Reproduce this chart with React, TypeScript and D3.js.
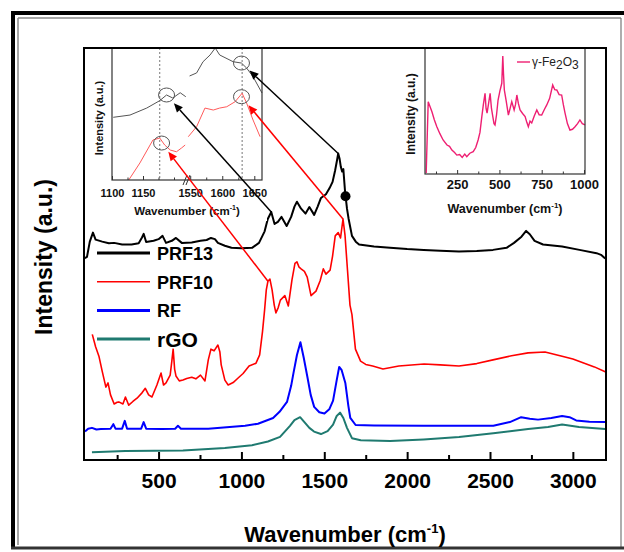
import * as d3 from "d3";
import { useEffect, useRef } from "react";

const W = 624;
const H = 552;

// main spectra, [wavenumber, intensity]
const prf13: [number, number][] = [
  [55, 49.0], [68, 49.3], [85, 53], [104, 55.2], [120, 53.5], [160, 53.0], [200, 52.6], [232, 52.7],
  [280, 52.3], [337, 52.3], [380, 52.6], [400, 54.0], [410, 54.9], [425, 52.9], [470, 53.2], [500, 53.6],
  [524, 54.4], [545, 52.7], [580, 53.2], [605, 53.9], [640, 52.7], [700, 52.8], [753, 53.2], [790, 53.4],
  [816, 53.9], [840, 53.6], [858, 52.7], [900, 52.0], [940, 51.5], [1000, 51.4], [1064, 51.5], [1106, 52.7],
  [1140, 55.5], [1159, 58.5], [1180, 60.2], [1200, 57.3], [1220, 57.8], [1242, 59.0], [1273, 56.8],
  [1300, 59.0], [1320, 61.5], [1335, 62.7], [1360, 61.0], [1387, 59.8], [1410, 61.4], [1439, 59.5],
  [1460, 61.5], [1480, 63.6], [1510, 64.5], [1532, 66.0], [1550, 67.5], [1565, 70.2], [1578, 73.0],
  [1584, 74.4], [1592, 73.2], [1600, 71.1], [1608, 70.0], [1615, 70.6], [1625, 65.3], [1637, 61.0],
  [1647, 58.5], [1667, 54.4], [1690, 53.0], [1710, 52.3], [1800, 51.8], [1897, 51.5], [2000, 51.2],
  [2100, 51.0], [2200, 50.8], [2313, 50.6], [2420, 50.7], [2518, 51.0], [2600, 51.5], [2645, 52.7],
  [2690, 54.2], [2718, 55.6], [2740, 54.8], [2769, 53.2], [2820, 52.3], [2935, 51.8], [3040, 51.0],
  [3143, 50.2], [3170, 49.8], [3195, 48.9],
];

const prf10: [number, number][] = [
  [100, 30.5], [120, 27.5], [140, 25.2], [160, 21.5], [182, 17.7], [195, 18.7], [210, 15.8], [232, 13.6],
  [250, 14.0], [260, 14.1], [285, 13.6], [300, 15.3], [320, 13.3], [345, 14.2], [370, 15.0], [400, 16.3],
  [420, 17.4], [440, 15.8], [460, 15.3], [490, 18.2], [515, 21.1], [530, 18.2], [545, 18.7], [570, 20.6],
  [580, 24], [588, 26.9], [597, 22], [605, 20.4], [625, 19.2], [647, 19.4], [670, 19.8], [700, 20.1],
  [725, 19.7], [753, 20.6], [780, 19.2], [800, 24.3], [816, 26.9], [835, 26.5], [858, 27.9], [870, 26.2],
  [878, 23.1], [900, 19.4], [920, 18.2], [950, 18.8], [980, 19.9], [1010, 21.0], [1046, 22.8], [1088, 23.5],
  [1110, 25.5], [1127, 31.1], [1140, 36.5], [1150, 41.3], [1160, 43.4], [1172, 43.9], [1185, 41.3],
  [1198, 37.6], [1208, 35.7], [1222, 37.0], [1235, 38.8], [1262, 39.9], [1283, 37.4], [1305, 43.7],
  [1323, 47.7], [1335, 48.1], [1348, 46.8], [1360, 46.4], [1380, 45.8], [1397, 44.4], [1420, 39.9],
  [1450, 41.0], [1475, 43.5], [1494, 46.4], [1510, 45.1], [1535, 46.1], [1550, 49.5], [1566, 54.4],
  [1584, 55.2], [1598, 53.9], [1613, 58.5], [1625, 54.6], [1640, 46.1], [1655, 37.6], [1667, 35.3],
  [1688, 26.9], [1719, 24.0], [1750, 23.2], [1792, 22.8], [1854, 22.1], [1950, 22.8], [2102, 23.3],
  [2200, 23.1], [2313, 22.8], [2420, 23.4], [2518, 24.3], [2630, 25.3], [2730, 26.0], [2832, 26.2],
  [2935, 25.2], [3000, 24.5], [3061, 23.6], [3130, 22.6], [3195, 21.4],
];

const rf: [number, number][] = [
  [56, 6.9], [75, 7.6], [98, 7.8], [125, 7.4], [152, 7.5], [210, 7.6], [227, 8.7], [240, 7.6], [280, 7.6],
  [296, 9.5], [310, 7.6], [395, 7.6], [410, 9.2], [425, 7.6], [520, 7.5], [600, 7.6], [617, 8.3], [635, 7.6],
  [800, 7.6], [1022, 8.3], [1100, 8.8], [1191, 10.2], [1230, 11.7], [1275, 14.1], [1300, 18.0], [1314, 21.1],
  [1335, 25.5], [1356, 28.6], [1376, 24.8], [1397, 20.4], [1418, 15.8], [1439, 12.9], [1470, 11.6],
  [1501, 11.3], [1530, 12.3], [1553, 14.4], [1575, 19.4], [1590, 22.6], [1605, 21.8], [1627, 18.7],
  [1645, 13.2], [1657, 10.2], [1689, 8.5], [1800, 8.4], [2100, 8.3], [2520, 8.3], [2620, 9.2], [2688, 10.4],
  [2740, 10.0], [2790, 9.8], [2870, 10.2], [2935, 10.7], [2980, 10.4], [3020, 9.6], [3100, 9.3], [3195, 9.2],
];

const rgo: [number, number][] = [
  [98, 1.9], [300, 2.2], [647, 2.3], [900, 2.9], [1064, 3.6], [1160, 4.5], [1233, 5.6], [1293, 8.3],
  [1320, 9.7], [1354, 10.4], [1380, 9.2], [1410, 7.8], [1438, 6.9], [1480, 6.3], [1520, 7.0], [1553, 8.6],
  [1575, 10.7], [1595, 11.5], [1615, 10.2], [1637, 7.8], [1667, 5.3], [1720, 4.8], [1897, 4.6], [2100, 5.0],
  [2313, 5.6], [2520, 6.5], [2730, 7.5], [2850, 8.0], [2935, 8.6], [3037, 8.0], [3195, 7.5],
];

const mainTicks = [500, 1000, 1500, 2000, 2500, 3000];
const mainMinor = [250, 750, 1250, 1750, 2250, 2750];

const legendNames = ["PRF13", "PRF10", "RF", "rGO"];
const legendColors = ["#000000", "#ff0000", "#0000ff", "#1f7a70"];
const legendWidths = [3, 1.5, 3, 3];
const legendSizes = [18, 18, 18, 21];

// zoomed inset (broken axis 1100-1220 | 1545-1662)
const zoomPrf13: [number, number][][] = [
  [[1102, 47.5], [1129, 49.2], [1156, 54.5], [1177, 60.1], [1188, 64.4], [1198, 62.1], [1210, 66.1], [1219, 63.1]],
  [[1549, 78.8], [1560, 81.1], [1570, 89.6], [1581, 94.7], [1589, 100], [1596, 94.7], [1617, 89.6], [1630, 88.6],
    [1638, 84.8], [1648, 78.3], [1662, 65.9]],
];
const zoomPrf10: [number, number][][] = [
  [[1127, 0], [1145, 12.9], [1166, 30.3], [1177, 31.8], [1185, 26.5], [1194, 22.7], [1204, 21.4], [1212, 24.2], [1218, 26.5]],
  [[1547, 32.8], [1560, 40.4], [1573, 54.5], [1586, 53.0], [1596, 54.5], [1607, 55.5], [1620, 59.3], [1631, 65.7],
    [1638, 58.3], [1648, 45.5], [1659, 32.8]],
];
const zoomTicks = [1100, 1150, 1550, 1600, 1650];
const zoomMinor = [1125, 1175, 1200, 1575, 1625];
const zoomPeaks = [1177, 1631];

// arrows: main peak -> circled point in the zoom inset
const arrowFrom: [number, number][] = [[1180, 60.2], [1584, 74.4], [1160, 43.4], [1613, 58.5]];
const arrowTo: [number, number][] = [[1188, 64.4], [1630, 88.6], [1180, 28], [1630, 63.1]];
const arrowColors = ["#000000", "#000000", "#ff0000", "#ff0000"];
const markedPoint: [number, number] = [1628, 64];

// gamma-Fe2O3 inset
const fe2o3: [number, number][] = [
  [67, 0.8], [79, 57.4], [90, 53.4], [101, 49.4], [115, 43], [130, 37.5], [148, 32], [167, 27], [190, 23],
  [205, 22], [219, 19], [235, 17], [248, 15], [265, 15.5], [280, 13.2], [295, 15.8], [307, 13.7], [325, 16.5],
  [345, 17.7], [360, 21], [374, 27], [385, 33], [396, 45.5], [405, 55], [415, 64], [421, 52], [427, 48.4],
  [436, 56], [445, 64], [453, 52], [461, 45.5], [468, 40], [474, 38.9], [483, 47], [492, 58.7], [503, 66],
  [514, 72], [520, 93.7], [524, 80], [529, 66.7], [540, 58], [553, 46.8], [563, 52], [573, 57.4], [587, 50.8],
  [595, 55], [603, 62.7], [612, 56], [622, 50.8], [637, 48], [652, 45.5], [662, 41], [671, 37.5], [681, 42],
  [691, 40.5], [706, 46], [721, 50.8], [735, 47], [750, 46.8], [765, 51], [780, 54.8], [797, 60], [815, 70.6],
  [827, 67], [839, 66.7], [853, 63], [868, 62.7], [878, 55], [888, 48.4], [902, 40], [917, 34.9], [932, 35.5],
  [947, 37.5], [962, 40], [976, 42.9], [990, 40], [1006, 38.9],
];
const feTicks = [250, 500, 750, 1000];
const feMinor = [125, 375, 625, 875];

export default function App() {
  const svgRef = useRef<SVGSVGElement>(null);

  useEffect(() => {
    const svg = d3.select(svgRef.current);
    svg.selectAll("*").remove();
    const font = "'Liberation Sans', Arial, Helvetica, sans-serif";

    svg.append("rect").attr("width", W).attr("height", H).attr("fill", "#fff");

    // picture frame
    svg.append("line").attr("x1", 13).attr("y1", 11).attr("x2", 13).attr("y2", 549).attr("stroke", "#000").attr("stroke-width", 4);
    svg.append("line").attr("x1", 11).attr("y1", 13).attr("x2", 624).attr("y2", 13).attr("stroke", "#000").attr("stroke-width", 4);
    svg.append("line").attr("x1", 18).attr("y1", 18).attr("x2", 18).attr("y2", 545).attr("stroke", "#888").attr("stroke-width", 1.5);
    svg.append("line").attr("x1", 18).attr("y1", 18).attr("x2", 621).attr("y2", 18).attr("stroke", "#888").attr("stroke-width", 1.5);
    svg.append("line").attr("x1", 621).attr("y1", 18).attr("x2", 621).attr("y2", 548).attr("stroke", "#777").attr("stroke-width", 1.2);
    svg.append("line").attr("x1", 11).attr("y1", 548).attr("x2", 624).attr("y2", 548).attr("stroke", "#333").attr("stroke-width", 3);

    //scaling
    const x = d3.scaleLinear().domain([50, 3200]).range([84, 606]);
    const y = d3.scaleLinear().domain([0, 100]).range([460, 48]);
    const line = d3.line<[number, number]>().x((d) => x(d[0])).y((d) => y(d[1]));

    const series = [prf13, prf10, rf, rgo];
    const curveWidths = [2, 1.6, 2, 2];
    series.forEach((s, i) => {
      svg.append("path").attr("d", line(s)).attr("fill", "none")
        .attr("stroke", legendColors[i]).attr("stroke-width", curveWidths[i]).attr("stroke-linejoin", "round");
    });

    //axis
    const xAxis = svg.append("g").attr("transform", "translate(0,460)")
      .call(d3.axisBottom(x).tickValues(mainTicks).tickSize(-8).tickPadding(13).tickFormat(d3.format("d")));
    xAxis.select(".domain").remove();
    xAxis.selectAll("line").attr("stroke", "#000").attr("stroke-width", 2);
    xAxis.selectAll("text").attr("font-family", font).attr("font-size", 21).attr("font-weight", "bold").attr("fill", "#000");
    const xMinor = svg.append("g").attr("transform", "translate(0,460)")
      .call(d3.axisBottom(x).tickValues(mainMinor).tickSize(-5).tickFormat(() => ""));
    xMinor.select(".domain").remove();
    xMinor.selectAll("line").attr("stroke", "#000").attr("stroke-width", 2);

    const xt = svg.append("text").attr("x", 345).attr("y", 542).attr("text-anchor", "middle")
      .attr("font-family", font).attr("font-size", 22).attr("font-weight", "bold");
    xt.append("tspan").text("Wavenumber (cm");
    xt.append("tspan").text("-1").attr("font-size", 13).attr("dy", -9);
    xt.append("tspan").text(")").attr("dy", 9);

    svg.append("text").attr("transform", "translate(52,257) rotate(-90)").attr("text-anchor", "middle")
      .attr("font-family", font).attr("font-size", 23).attr("font-weight", "bold").text("Intensity (a.u.)");

    // legend
    legendNames.forEach((name, i) => {
      const ly = 253 + i * 28.7;
      svg.append("line").attr("x1", 97).attr("x2", 150).attr("y1", ly).attr("y2", ly)
        .attr("stroke", legendColors[i]).attr("stroke-width", legendWidths[i]);
      svg.append("text").attr("x", 157).attr("y", ly + (i === 3 ? 8 : 7))
        .attr("font-family", font).attr("font-size", legendSizes[i]).attr("font-weight", "bold").text(name);
    });

    // ---- zoom inset (left)
    const zx = d3.scaleLinear().domain([1100, 1220, 1545, 1662]).range([112, 186.4, 187, 262]);
    const zy = d3.scaleLinear().domain([0, 100]).range([180, 48]);
    const zline = d3.line<[number, number]>().x((d) => zx(d[0])).y((d) => zy(d[1]));
    const zi = svg.append("g");
    zi.append("rect").attr("x", 85).attr("y", 49).attr("width", 182).attr("height", 172).attr("fill", "#fff");
    zoomPeaks.forEach((p) => {
      zi.append("line").attr("x1", zx(p)).attr("x2", zx(p)).attr("y1", 48).attr("y2", 180)
        .attr("stroke", "#777").attr("stroke-width", 1).attr("stroke-dasharray", "2,2");
    });
    zoomPrf13.forEach((s) => zi.append("path").attr("d", zline(s)).attr("fill", "none").attr("stroke", "#555").attr("stroke-width", 1));
    zoomPrf10.forEach((s) => zi.append("path").attr("d", zline(s)).attr("fill", "none").attr("stroke", "#ff5a5a").attr("stroke-width", 1));
    arrowTo.forEach((p) => {
      zi.append("ellipse").attr("cx", zx(p[0])).attr("cy", zy(p[1])).attr("rx", 8).attr("ry", 7)
        .attr("fill", "none").attr("stroke", "#555").attr("stroke-width", 1);
    });
    zi.append("rect").attr("x", 112).attr("y", 48).attr("width", 150).attr("height", 132)
      .attr("fill", "none").attr("stroke", "#333").attr("stroke-width", 1.2);
    const zAxis = zi.append("g").attr("transform", "translate(0,180)")
      .call(d3.axisBottom(zx).tickValues(zoomTicks).tickSize(-4).tickPadding(9).tickFormat(d3.format("d")));
    zAxis.select(".domain").remove();
    zAxis.selectAll("line").attr("stroke", "#333");
    zAxis.selectAll("text").attr("font-family", font).attr("font-size", 11).attr("font-weight", "bold").attr("fill", "#111");
    const zMinor = zi.append("g").attr("transform", "translate(0,180)")
      .call(d3.axisBottom(zx).tickValues(zoomMinor).tickSize(-2.5).tickFormat(() => ""));
    zMinor.select(".domain").remove();
    zMinor.selectAll("line").attr("stroke", "#333");
    [0, 3].forEach((o) => {
      zi.append("line").attr("x1", 183 + o).attr("y1", 185).attr("x2", 187 + o).attr("y2", 175)
        .attr("stroke", "#333").attr("stroke-width", 1);
    });
    const zt = zi.append("text").attr("x", 187).attr("y", 215).attr("text-anchor", "middle")
      .attr("font-family", font).attr("font-size", 11.5).attr("font-weight", "bold").attr("fill", "#111");
    zt.append("tspan").text("Wavenumber (cm");
    zt.append("tspan").text("-1").attr("font-size", 7).attr("dy", -5);
    zt.append("tspan").text(")").attr("dy", 5);
    zi.append("text").attr("transform", "translate(103,118) rotate(-90)").attr("text-anchor", "middle")
      .attr("font-family", font).attr("font-size", 11).attr("font-weight", "bold").attr("fill", "#111").text("Intensity (a.u.)");

    // ---- gamma-Fe2O3 inset (right)
    const fx = d3.scaleLinear().domain([60, 1006]).range([425, 585]);
    const fy = d3.scaleLinear().domain([0, 100]).range([174, 48]);
    const fline = d3.line<[number, number]>().x((d) => fx(d[0])).y((d) => fy(d[1]));
    const fi = svg.append("g");
    fi.append("rect").attr("x", 395).attr("y", 49).attr("width", 205).attr("height", 172).attr("fill", "#fff");
    fi.append("path").attr("d", fline(fe2o3)).attr("fill", "none").attr("stroke", "#ee1f72").attr("stroke-width", 1.4);
    fi.append("rect").attr("x", 425).attr("y", 48).attr("width", 160).attr("height", 126)
      .attr("fill", "none").attr("stroke", "#333").attr("stroke-width", 1.2);
    const fAxis = fi.append("g").attr("transform", "translate(0,174)")
      .call(d3.axisBottom(fx).tickValues(feTicks).tickSize(-4).tickPadding(6).tickFormat(d3.format("d")));
    fAxis.select(".domain").remove();
    fAxis.selectAll("line").attr("stroke", "#333");
    fAxis.selectAll("text").attr("font-family", font).attr("font-size", 13).attr("font-weight", "bold").attr("fill", "#111");
    const fMinor = fi.append("g").attr("transform", "translate(0,174)")
      .call(d3.axisBottom(fx).tickValues(feMinor).tickSize(-2.5).tickFormat(() => ""));
    fMinor.select(".domain").remove();
    fMinor.selectAll("line").attr("stroke", "#333");
    const ft = fi.append("text").attr("x", 505).attr("y", 213).attr("text-anchor", "middle")
      .attr("font-family", font).attr("font-size", 12.5).attr("font-weight", "bold").attr("fill", "#111");
    ft.append("tspan").text("Wavenumber (cm");
    ft.append("tspan").text("-1").attr("font-size", 8).attr("dy", -5);
    ft.append("tspan").text(")").attr("dy", 5);
    fi.append("text").attr("transform", "translate(415,114) rotate(-90)").attr("text-anchor", "middle")
      .attr("font-family", font).attr("font-size", 12).attr("font-weight", "bold").attr("fill", "#111").text("Intensity (a.u.)");
    fi.append("line").attr("x1", 517).attr("x2", 530).attr("y1", 62).attr("y2", 62).attr("stroke", "#ee1f72").attr("stroke-width", 1.4);
    const fl = fi.append("text").attr("x", 532).attr("y", 66).attr("font-family", font).attr("font-size", 12).attr("fill", "#222");
    fl.append("tspan").text("\u03b3-Fe");
    fl.append("tspan").text("2").attr("dy", 3);
    fl.append("tspan").text("O").attr("dy", -3);
    fl.append("tspan").text("3").attr("dy", 3);

    // main frame
    svg.append("rect").attr("x", 84).attr("y", 48).attr("width", 522).attr("height", 412)
      .attr("fill", "none").attr("stroke", "#000").attr("stroke-width", 2);

    // arrows
    arrowFrom.forEach((m, i) => {
      const ax = x(m[0]);
      const ay = y(m[1]);
      const cx = zx(arrowTo[i][0]);
      const cy = zy(arrowTo[i][1]);
      const len = Math.hypot(cx - ax, cy - ay);
      const ux = (cx - ax) / len;
      const uy = (cy - ay) / len;
      const tx = cx - ux * 11;
      const ty = cy - uy * 11;
      const bx = tx - ux * 9;
      const by = ty - uy * 9;
      svg.append("line").attr("x1", ax).attr("y1", ay).attr("x2", bx).attr("y2", by)
        .attr("stroke", arrowColors[i]).attr("stroke-width", 1.5);
      svg.append("path")
        .attr("d", `M${tx},${ty}L${bx - uy * 4},${by + ux * 4}L${bx + uy * 4},${by - ux * 4}Z`)
        .attr("fill", arrowColors[i]);
    });

    svg.append("circle").attr("cx", x(markedPoint[0])).attr("cy", y(markedPoint[1])).attr("r", 5).attr("fill", "#000");
  }, []);

  return (
    <div>
      <svg ref={svgRef} width={W} height={H} style={{ position: "absolute", left: 0, top: 0 }}></svg>
    </div>
  );
}
